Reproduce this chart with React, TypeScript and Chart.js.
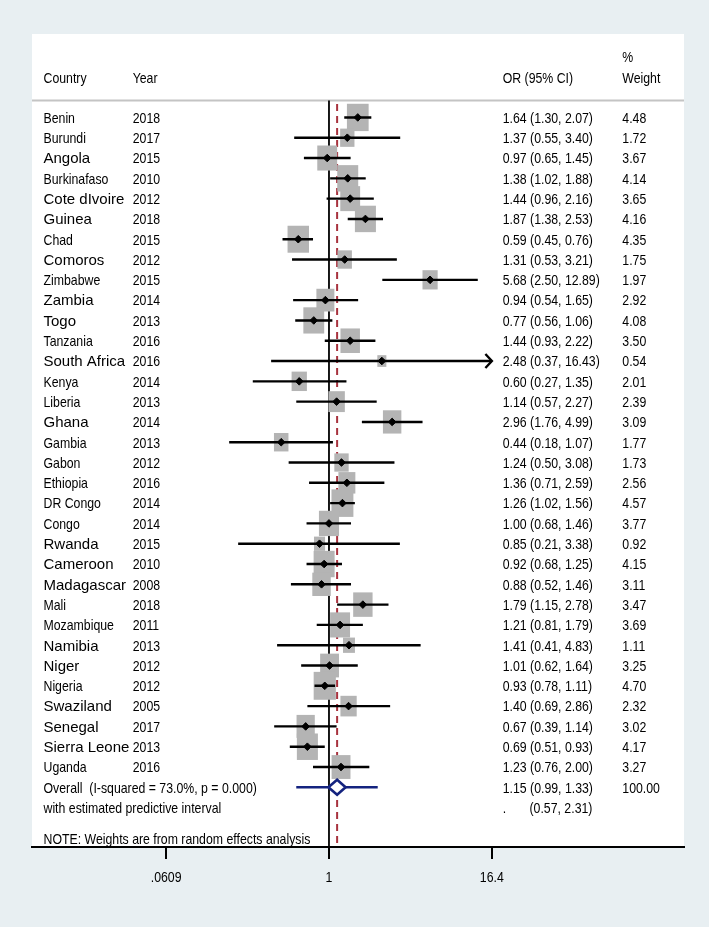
import React, { useEffect, useRef } from 'react';
import { Chart, registerables } from 'chart.js';

Chart.register(...registerables);

// ---------------- data ----------------
const countries = [
  'Benin', 'Burundi', 'Angola', 'Burkinafaso', 'Cote dIvoire', 'Guinea', 'Chad', 'Comoros',
  'Zimbabwe', 'Zambia', 'Togo', 'Tanzania', 'South Africa', 'Kenya', 'Liberia', 'Ghana',
  'Gambia', 'Gabon', 'Ethiopia', 'DR Congo', 'Congo', 'Rwanda', 'Cameroon', 'Madagascar',
  'Mali', 'Mozambique', 'Namibia', 'Niger', 'Nigeria', 'Swaziland', 'Senegal', 'Sierra Leone', 'Uganda',
];
const years = [
  2018, 2017, 2015, 2010, 2012, 2018, 2015, 2012, 2015, 2014, 2013, 2016, 2016, 2014, 2013, 2014,
  2013, 2012, 2016, 2014, 2014, 2015, 2010, 2008, 2018, 2011, 2013, 2012, 2012, 2005, 2017, 2013, 2016,
];
const oddsRatios = [
  1.64, 1.37, 0.97, 1.38, 1.44, 1.87, 0.59, 1.31, 5.68, 0.94, 0.77, 1.44, 2.48, 0.60, 1.14, 2.96,
  0.44, 1.24, 1.36, 1.26, 1.00, 0.85, 0.92, 0.88, 1.79, 1.21, 1.41, 1.01, 0.93, 1.40, 0.67, 0.69, 1.23,
];
const ciLower = [
  1.30, 0.55, 0.65, 1.02, 0.96, 1.38, 0.45, 0.53, 2.50, 0.54, 0.56, 0.93, 0.37, 0.27, 0.57, 1.76,
  0.18, 0.50, 0.71, 1.02, 0.68, 0.21, 0.68, 0.52, 1.15, 0.81, 0.41, 0.62, 0.78, 0.69, 0.39, 0.51, 0.76,
];
const ciUpper = [
  2.07, 3.40, 1.45, 1.88, 2.16, 2.53, 0.76, 3.21, 12.89, 1.65, 1.06, 2.22, 16.43, 1.35, 2.27, 4.99,
  1.07, 3.08, 2.59, 1.56, 1.46, 3.38, 1.25, 1.46, 2.78, 1.79, 4.83, 1.64, 1.11, 2.86, 1.14, 0.93, 2.00,
];
const weights = [
  4.48, 1.72, 3.67, 4.14, 3.65, 4.16, 4.35, 1.75, 1.97, 2.92, 4.08, 3.50, 0.54, 2.01, 2.39, 3.09,
  1.77, 1.73, 2.56, 4.57, 3.77, 0.92, 4.15, 3.11, 3.47, 3.69, 1.11, 3.25, 4.70, 2.32, 3.02, 4.17, 3.27,
];
const overallOR = 1.15;
const overallLower = 0.99;
const overallUpper = 1.33;
const predLower = 0.57;
const predUpper = 2.31;
const overallWeightLabel = '100.00';
const overallLabel = 'Overall  (I-squared = 73.0%, p = 0.000)';
const predLabel = 'with estimated predictive interval';
const noteLabel = 'NOTE: Weights are from random effects analysis';
const headerLabels = ['Country', 'Year', 'OR (95% CI)', '%', 'Weight'];
const xTickValues = [0.0609, 1, 16.4];
const xTickLabels = ['.0609', '1', '16.4'];
const axisMaxLabel = 16.4;

// ---------------- style / layout ----------------
const BG = 'rgb(232,239,242)';
const NAVY = '#14237f';
const RED = '#a8323e';
const BOX_GRAY = '#b4b4b4';
const REG_FAMILY = '"Liberation Sans", Arial, Helvetica, sans-serif';
const LARGE_NAMES = new Set([
  'Angola', 'Cote dIvoire', 'Guinea', 'Comoros', 'Zambia', 'Togo', 'South Africa', 'Ghana',
  'Rwanda', 'Cameroon', 'Madagascar', 'Namibia', 'Niger', 'Swaziland', 'Senegal', 'Sierra Leone',
]);
const COL_COUNTRY = 43.5;
const COL_YEAR = 132.7;
const COL_OR = 502.7;
const COL_PRED_CI = 529.5;
const COL_W = 622.3;
const ROW_PCT = -2.97;
const ROW_HEADER = -1.96;
const ROW_HLINE = -0.83;
const ROW_REDSTART = -0.66;
const N = countries.length;
const ROW_OVERALL = N;
const ROW_PRED = N + 1;
const ROW_NOTE = N + 2.53;
const DIAMOND_HALF = 0.37;
const TICK_LABEL_BASELINE = 882;

function hasFont(name: string): boolean {
  const c = document.createElement('canvas').getContext('2d');
  if (!c) return false;
  const s = 'abcdefghijklmnopqrstuvwxyz 0123456789';
  c.font = '40px monospace';
  const a = c.measureText(s).width;
  c.font = `40px "${name}", monospace`;
  const b = c.measureText(s).width;
  return Math.abs(a - b) > 0.5;
}

const fmt = (v: number) => v.toFixed(2);

export default function App() {
  const ref = useRef<HTMLCanvasElement | null>(null);

  useEffect(() => {
    const canvas = ref.current;
    if (!canvas) return;
    const narrowOK = hasFont('Liberation Sans Narrow');

    const drawText = (
      ctx: CanvasRenderingContext2D,
      text: string,
      px: number,
      py: number,
      condensed: boolean,
      center = false,
    ) => {
      ctx.fillStyle = '#000';
      ctx.textAlign = 'left';
      ctx.textBaseline = 'alphabetic';
      if (!condensed) {
        ctx.font = `15px ${REG_FAMILY}`;
        const w = ctx.measureText(text).width;
        ctx.fillText(text, center ? px - w / 2 : px, py);
      } else if (narrowOK) {
        ctx.font = `15px "Liberation Sans Narrow"`;
        const w = ctx.measureText(text).width;
        ctx.fillText(text, center ? px - w / 2 : px, py);
      } else {
        ctx.font = `15px ${REG_FAMILY}`;
        const w = ctx.measureText(text).width * 0.82;
        ctx.save();
        ctx.translate(center ? px - w / 2 : px, py);
        ctx.scale(0.82, 1);
        ctx.fillText(text, 0, 0);
        ctx.restore();
      }
    };

    const forestPlugin = {
      id: 'forestDecor',
      beforeDraw(chart: any) {
        const { ctx, chartArea: a } = chart;
        ctx.save();
        ctx.fillStyle = BG;
        ctx.fillRect(0, 0, chart.width, chart.height);
        ctx.fillStyle = '#ffffff';
        ctx.fillRect(a.left, a.top, a.right - a.left, a.bottom - a.top);
        ctx.restore();
      },
      beforeDatasetsDraw(chart: any) {
        const { ctx, chartArea: a, scales } = chart;
        const xs = scales.x;
        const ys = scales.y;
        ctx.save();
        const hy = ys.getPixelForValue(ROW_HLINE);
        ctx.strokeStyle = '#c4c4c4';
        ctx.lineWidth = 2;
        ctx.beginPath();
        ctx.moveTo(a.left, hy);
        ctx.lineTo(a.right, hy);
        ctx.stroke();
        const x1 = xs.getPixelForValue(1);
        ctx.strokeStyle = '#000';
        ctx.lineWidth = 1.8;
        ctx.beginPath();
        ctx.moveTo(x1, hy);
        ctx.lineTo(x1, a.bottom);
        ctx.stroke();
        const xo = xs.getPixelForValue(overallOR);
        ctx.strokeStyle = RED;
        ctx.lineWidth = 2;
        ctx.setLineDash([7, 5]);
        ctx.beginPath();
        ctx.moveTo(xo, ys.getPixelForValue(ROW_REDSTART));
        ctx.lineTo(xo, a.bottom);
        ctx.stroke();
        ctx.setLineDash([]);
        ctx.beginPath();
        ctx.rect(a.left, a.top, a.right - a.left, a.bottom - a.top);
        ctx.clip();
        ctx.fillStyle = BOX_GRAY;
        weights.forEach((w, i) => {
          const cx = xs.getPixelForValue(oddsRatios[i]);
          const cy = ys.getPixelForValue(i);
          const bw = 2.25 + 9.2 * Math.sqrt(w);
          const bh = 3.4 + 11.3 * Math.sqrt(w);
          ctx.fillRect(cx - bw / 2, cy - bh / 2, bw, bh);
        });
        ctx.restore();
      },
      afterDatasetsDraw(chart: any) {
        const { ctx, scales } = chart;
        const xs = scales.x;
        const ys = scales.y;
        ctx.save();
        ctx.strokeStyle = '#000';
        ctx.lineWidth = 2.4;
        ciUpper.forEach((u, i) => {
          if (u > axisMaxLabel) {
            const px = xs.getPixelForValue(u);
            const py = ys.getPixelForValue(i);
            ctx.beginPath();
            ctx.moveTo(px - 6.5, py - 7);
            ctx.lineTo(px, py);
            ctx.lineTo(px - 6.5, py + 7);
            ctx.stroke();
          }
        });
        const base = (row: number) => ys.getPixelForValue(row) + 5.3;
        drawText(ctx, headerLabels[3], COL_W, base(ROW_PCT), true);
        drawText(ctx, headerLabels[0], COL_COUNTRY, base(ROW_HEADER), true);
        drawText(ctx, headerLabels[1], COL_YEAR, base(ROW_HEADER), true);
        drawText(ctx, headerLabels[2], COL_OR, base(ROW_HEADER), true);
        drawText(ctx, headerLabels[4], COL_W, base(ROW_HEADER), true);
        countries.forEach((c, i) => {
          const b = base(i);
          drawText(ctx, c, COL_COUNTRY, b, !LARGE_NAMES.has(c));
          drawText(ctx, String(years[i]), COL_YEAR, b, true);
          drawText(ctx, `${fmt(oddsRatios[i])} (${fmt(ciLower[i])}, ${fmt(ciUpper[i])})`, COL_OR, b, true);
          drawText(ctx, fmt(weights[i]), COL_W, b, true);
        });
        drawText(ctx, overallLabel, COL_COUNTRY, base(ROW_OVERALL), true);
        drawText(ctx, `${fmt(overallOR)} (${fmt(overallLower)}, ${fmt(overallUpper)})`, COL_OR, base(ROW_OVERALL), true);
        drawText(ctx, overallWeightLabel, COL_W, base(ROW_OVERALL), true);
        drawText(ctx, predLabel, COL_COUNTRY, base(ROW_PRED), true);
        drawText(ctx, '.', COL_OR, base(ROW_PRED), true);
        drawText(ctx, `(${fmt(predLower)}, ${fmt(predUpper)})`, COL_PRED_CI, base(ROW_PRED), true);
        drawText(ctx, noteLabel, COL_COUNTRY, base(ROW_NOTE), true);
        ctx.restore();
      },
      afterDraw(chart: any) {
        const { ctx } = chart;
        const xs = chart.scales.x;
        ctx.save();
        xs.ticks.forEach((t: any, i: number) => {
          const px = xs.getPixelForValue(t.value);
          drawText(ctx, xTickLabels[i], px, TICK_LABEL_BASELINE, true, true);
        });
        ctx.restore();
      },
    };

    const studyPoints = oddsRatios.map((v, i) => ({ x: v, y: i }));
    const ciSegments: { x: number; y: number | null }[] = [];
    oddsRatios.forEach((_, i) => {
      ciSegments.push({ x: ciLower[i], y: i }, { x: ciUpper[i], y: i }, { x: ciUpper[i], y: null });
    });
    const diamond = [
      { x: overallLower, y: ROW_OVERALL },
      { x: overallOR, y: ROW_OVERALL - DIAMOND_HALF },
      { x: overallUpper, y: ROW_OVERALL },
      { x: overallOR, y: ROW_OVERALL + DIAMOND_HALF },
      { x: overallLower, y: ROW_OVERALL },
    ];
    const predLine = [
      { x: predLower, y: ROW_OVERALL },
      { x: predUpper, y: ROW_OVERALL },
    ];

    const chart = new Chart(canvas, {
      type: 'scatter',
      data: {
        datasets: [
          {
            type: 'scatter',
            data: studyPoints,
            pointStyle: 'rectRot',
            pointRadius: 3.8,
            backgroundColor: '#000',
            borderColor: '#000',
            borderWidth: 1,
          } as any,
          {
            type: 'line',
            data: diamond,
            borderColor: NAVY,
            borderWidth: 2.6,
            backgroundColor: '#ffffff',
            fill: 'shape',
            pointRadius: 0,
            tension: 0,
          } as any,
          {
            type: 'line',
            data: predLine,
            borderColor: NAVY,
            borderWidth: 2.6,
            pointRadius: 0,
            fill: false,
          } as any,
          {
            type: 'line',
            data: ciSegments,
            borderColor: '#000',
            borderWidth: 2.4,
            pointRadius: 0,
            spanGaps: false,
            fill: false,
          } as any,
        ],
      },
      options: {
        responsive: false,
        animation: false,
        devicePixelRatio: 1,
        events: [],
        layout: { padding: { left: 32, right: 25, top: 34, bottom: 0 } },
        plugins: { legend: { display: false }, tooltip: { enabled: false } },
        scales: {
          x: {
            type: 'logarithmic',
            position: 'bottom',
            min: 0.00608,
            max: 445.8,
            bounds: 'data',
            afterBuildTicks: (axis: any) => {
              axis.ticks = xTickValues.map((v) => ({ value: v }));
            },
            afterFit: (axis: any) => {
              axis.height = 80;
            },
            ticks: {
              display: false,
              autoSkip: false,
              maxRotation: 0,
              minRotation: 0,
              callback: (_v: any, i: number) => xTickLabels[i],
            },
            grid: {
              display: true,
              drawOnChartArea: false,
              drawTicks: true,
              tickLength: 12,
              tickWidth: 2,
              tickColor: '#000',
              color: '#000',
              lineWidth: 2,
            },
            border: { display: true, color: '#000', width: 2 },
          },
          y: {
            type: 'linear',
            display: false,
            reverse: true,
            min: -4.11,
            max: 35.94,
            bounds: 'data',
          },
        },
      } as any,
      plugins: [forestPlugin],
    });

    return () => chart.destroy();
  }, []);

  return (
    <div style={{ position: 'absolute', left: 0, top: 0, width: 709, height: 927, background: BG }}>
      <canvas ref={ref} width={709} height={927} style={{ display: 'block', width: 709, height: 927 }} />
    </div>
  );
}
